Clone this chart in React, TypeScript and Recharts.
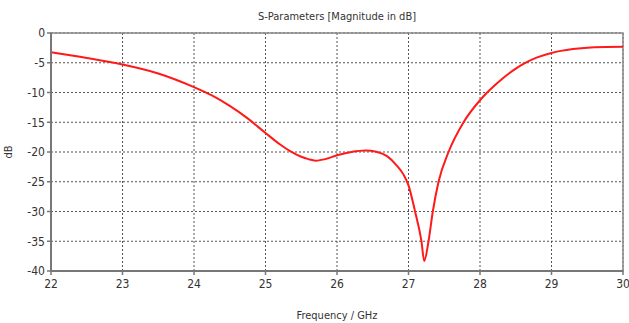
import React from "react";
import {
  LineChart,
  Line,
  XAxis,
  YAxis,
  CartesianGrid,
  ReferenceArea,
  Label,
} from "recharts";

const frequency = [
  22, 22.5, 23, 23.5, 24, 24.25, 24.5, 24.75, 25, 25.2, 25.35, 25.5, 25.6, 25.7,
  25.85, 26.0, 26.2, 26.4, 26.55, 26.7, 26.83, 26.93, 27.0, 27.09, 27.18,
  27.22, 27.28, 27.34, 27.42, 27.56, 27.77, 28.0, 28.1, 28.2, 28.3, 28.4, 28.5,
  28.62, 28.8, 29.0, 29.3, 29.6, 30,
];
const magnitude = [
  -3.25, -4.2, -5.3, -6.8, -9.1, -10.5, -12.25, -14.35, -16.8, -18.7, -19.9,
  -20.8, -21.2, -21.45, -21.15, -20.55, -20.0, -19.75, -19.95, -20.7, -22.2,
  -23.8, -25.6, -29.9, -34.9, -38.3, -35.0, -30.0, -25.0, -20.0, -15.0, -11.3,
  -10.0, -8.85, -7.8, -6.85, -6.0, -5.1, -4.1, -3.35, -2.7, -2.38, -2.3,
];
const xTicks = [22, 23, 24, 25, 26, 27, 28, 29, 30];
const yTicks = [0, -5, -10, -15, -20, -25, -30, -35, -40];

const data = frequency.map((f, i) => ({ f, s: magnitude[i] }));

const FONT = "'DejaVu Sans Condensed', 'DejaVu Sans', sans-serif";

export default function App() {
  return (
    <div style={{ position: "absolute", left: 0, top: 0, background: "#fff" }}>
      <LineChart
        width={629}
        height={323}
        data={data}
        margin={{ top: 33, right: 6, bottom: 0, left: 0 }}
      >
        <text
          x={337}
          y={20}
          textAnchor="middle"
          fontFamily={FONT}
          fontSize={11}
          fill="#333"
        >
          S-Parameters [Magnitude in dB]
        </text>
        <CartesianGrid stroke="#555" strokeDasharray="2 2" strokeWidth={1} />
        <XAxis
          dataKey="f"
          type="number"
          domain={[22, 30]}
          ticks={xTicks}
          interval={0}
          height={52}
          tickSize={4}
          tickLine={{ stroke: "#777", strokeWidth: 1.5 }}
          axisLine={{ stroke: "#777", strokeWidth: 2 }}
          tick={{ fontFamily: FONT, fontSize: 12, fill: "#333" }}
          tickMargin={4}
        >
          <Label
            value="Frequency / GHz"
            position="insideBottom"
            offset={4}
            style={{ fontFamily: FONT, fontSize: 11, fill: "#333" }}
          />
        </XAxis>
        <YAxis
          type="number"
          domain={[-40, 0]}
          ticks={yTicks}
          interval={0}
          width={51}
          tickSize={4}
          tickLine={{ stroke: "#777", strokeWidth: 1.5 }}
          axisLine={{ stroke: "#777", strokeWidth: 2 }}
          tick={{ fontFamily: FONT, fontSize: 12, fill: "#333" }}
          tickMargin={2}
        >
          <Label
            value="dB"
            angle={-90}
            position="insideLeft"
            offset={8}
            style={{ fontFamily: FONT, fontSize: 11, fill: "#333", textAnchor: "middle" }}
          />
        </YAxis>
        <ReferenceArea
          x1={22}
          x2={30}
          y1={-40}
          y2={0}
          fill="none"
          fillOpacity={0}
          stroke="#888"
          strokeWidth={1.5}
        />
        <Line
          type="monotone"
          dataKey="s"
          stroke="#ff1a1a"
          strokeWidth={2}
          dot={false}
          isAnimationActive={false}
        />
      </LineChart>
    </div>
  );
}
